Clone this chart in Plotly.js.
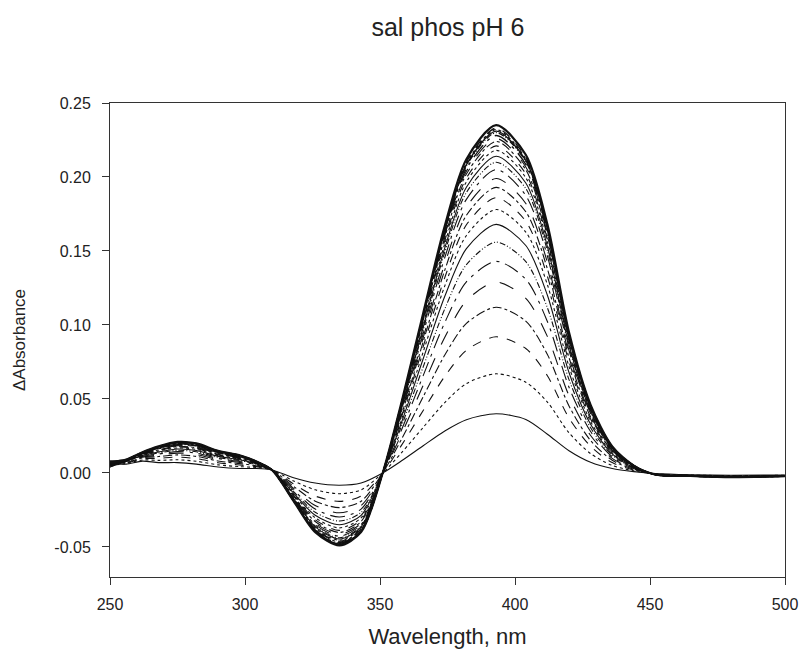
<!DOCTYPE html>
<html>
<head>
<meta charset="utf-8">
<script src="https://cdn.plot.ly/plotly-3.0.1.min.js"></script>
<style>html,body{margin:0;padding:0;background:#fff;}#chart{width:805px;height:659px;}</style>
</head>
<body>
<div id="chart"></div>
<script>
// Wavelength grid (nm) at which values were read
const wavelength = [250,256,262,268,275,282,290,298,304,310,318,326,335,343,351,358,366,374,382,393,404,412,420,428,436,444,452,465,480,500];

// ΔAbsorbance spectra (titration series, lowest to highest)
const s01 = [0.006,0.006,0.008,0.007,0.007,0.006,0.004,0.003,0.003,0.002,-0.0032,-0.0068,-0.0083,-0.0068,0,0.0082,0.0184,0.0284,0.0360,0.040,0.0362,0.0262,0.0150,0.0072,0.0030,0.0009,-0.0004,-0.0012,-0.0015,-0.0014];
const s02 = [0.005,0.0064,0.0088,0.0085,0.0089,0.0079,0.0055,0.0043,0.0037,0.002,-0.0054,-0.0114,-0.0140,-0.0114,0,0.0137,0.0308,0.0476,0.0604,0.067,0.0613,0.0479,0.0271,0.0131,0.0051,0.0014,-0.0006,-0.0014,-0.0018,-0.0016];
const s03 = [0.007,0.0068,0.0096,0.0099,0.0107,0.0097,0.0069,0.0054,0.0043,0.002,-0.0074,-0.0156,-0.0192,-0.0156,0,0.0188,0.0422,0.0653,0.0829,0.092,0.0841,0.0657,0.0371,0.0180,0.0070,0.0020,-0.0007,-0.0015,-0.0020,-0.0017];
const s04 = [0.006,0.0071,0.0102,0.0111,0.0122,0.0112,0.0081,0.0063,0.0049,0.002,-0.0091,-0.0191,-0.0234,-0.0191,0,0.0229,0.0515,0.0797,0.1011,0.112,0.1026,0.0801,0.0453,0.0219,0.0086,0.0024,-0.0008,-0.0016,-0.0021,-0.0018];
const s05 = [0.005,0.0074,0.0107,0.0120,0.0134,0.0124,0.0090,0.0071,0.0053,0.002,-0.0104,-0.0220,-0.0269,-0.0220,0,0.0264,0.0593,0.0917,0.1164,0.129,0.1180,0.0922,0.0522,0.0253,0.0099,0.0027,-0.0009,-0.0017,-0.0022,-0.0019];
const s06 = [0.007,0.0076,0.0112,0.0128,0.0144,0.0134,0.0098,0.0078,0.0056,0.002,-0.0116,-0.0244,-0.0298,-0.0244,0,0.0292,0.0658,0.1017,0.1291,0.143,0.1309,0.1023,0.0579,0.0280,0.0110,0.0030,-0.0009,-0.0018,-0.0023,-0.0018];
const s07 = [0.006,0.0078,0.0116,0.0135,0.0153,0.0143,0.0105,0.0084,0.0060,0.002,-0.0126,-0.0266,-0.0325,-0.0266,0,0.0319,0.0717,0.1109,0.1408,0.156,0.1428,0.1116,0.0631,0.0305,0.0120,0.0033,-0.0010,-0.0017,-0.0024,-0.0020];
const s08 = [0.004,0.0080,0.0119,0.0142,0.0162,0.0152,0.0112,0.0089,0.0063,0.002,-0.0136,-0.0286,-0.0350,-0.0286,0,0.0343,0.0772,0.1194,0.1516,0.168,0.1537,0.1201,0.0679,0.0329,0.0129,0.0036,-0.0010,-0.0019,-0.0025,-0.0019];
const s09 = [0.007,0.0081,0.0122,0.0148,0.0169,0.0159,0.0118,0.0094,0.0065,0.002,-0.0144,-0.0303,-0.0371,-0.0303,0,0.0363,0.0818,0.1264,0.1605,0.178,0.1628,0.1272,0.0719,0.0348,0.0136,0.0038,-0.0011,-0.0018,-0.0026,-0.0021];
const s10 = [0.006,0.0082,0.0125,0.0152,0.0175,0.0165,0.0122,0.0097,0.0067,0.002,-0.0150,-0.0316,-0.0388,-0.0316,0,0.0380,0.0854,0.1321,0.1677,0.186,0.1701,0.1329,0.0751,0.0364,0.0142,0.0040,-0.0011,-0.0020,-0.0025,-0.0020];
const s11 = [0.005,0.0084,0.0127,0.0156,0.0180,0.0170,0.0126,0.0101,0.0069,0.002,-0.0156,-0.0328,-0.0402,-0.0328,0,0.0394,0.0887,0.1371,0.1741,0.193,0.1765,0.1379,0.0780,0.0378,0.0148,0.0041,-0.0012,-0.0019,-0.0027,-0.0022];
const s12 = [0.008,0.0084,0.0129,0.0160,0.0184,0.0174,0.0130,0.0103,0.0071,0.002,-0.0161,-0.0339,-0.0415,-0.0339,0,0.0407,0.0915,0.1414,0.1796,0.199,0.1821,0.1423,0.0805,0.0390,0.0152,0.0042,-0.0011,-0.0020,-0.0026,-0.0021];
const s13 = [0.006,0.0085,0.0131,0.0163,0.0188,0.0178,0.0133,0.0106,0.0072,0.002,-0.0166,-0.0349,-0.0427,-0.0349,0,0.0419,0.0942,0.1456,0.1849,0.205,0.1875,0.1465,0.0828,0.0401,0.0157,0.0044,-0.0012,-0.0021,-0.0027,-0.0020];
const s14 = [0.005,0.0086,0.0132,0.0166,0.0192,0.0182,0.0136,0.0108,0.0074,0.002,-0.0170,-0.0358,-0.0438,-0.0358,0,0.0429,0.0966,0.1493,0.1895,0.210,0.1922,0.1502,0.0849,0.0411,0.0161,0.0045,-0.0012,-0.0020,-0.0028,-0.0022];
const s15 = [0.007,0.0087,0.0134,0.0168,0.0195,0.0185,0.0138,0.0110,0.0075,0.002,-0.0173,-0.0364,-0.0446,-0.0364,0,0.0437,0.0984,0.1521,0.1931,0.214,0.1959,0.1530,0.0865,0.0419,0.0164,0.0046,-0.0011,-0.0021,-0.0026,-0.0021];
const s16 = [0.006,0.0087,0.0135,0.0170,0.0198,0.0188,0.0140,0.0112,0.0076,0.002,-0.0176,-0.0371,-0.0455,-0.0371,0,0.0445,0.1002,0.1550,0.1967,0.218,0.1995,0.1559,0.0882,0.0427,0.0167,0.0046,-0.0012,-0.0022,-0.0027,-0.0022];
const s17 = [0.004,0.0088,0.0136,0.0172,0.0200,0.0190,0.0142,0.0114,0.0076,0.002,-0.0179,-0.0376,-0.0461,-0.0376,0,0.0451,0.1015,0.1570,0.1993,0.221,0.2021,0.1579,0.0893,0.0432,0.0169,0.0047,-0.0012,-0.0021,-0.0028,-0.0023];
const s18 = [0.006,0.0088,0.0137,0.0174,0.0202,0.0192,0.0144,0.0115,0.0077,0.002,-0.0181,-0.0381,-0.0467,-0.0381,0,0.0457,0.1029,0.1592,0.2020,0.224,0.2049,0.1601,0.0905,0.0438,0.0172,0.0048,-0.0011,-0.0022,-0.0027,-0.0021];
const s19 = [0.007,0.0089,0.0137,0.0175,0.0204,0.0194,0.0145,0.0116,0.0078,0.002,-0.0183,-0.0385,-0.0471,-0.0385,0,0.0462,0.1039,0.1607,0.2039,0.226,0.2068,0.1616,0.0914,0.0443,0.0173,0.0048,-0.0012,-0.0021,-0.0028,-0.0022];
const s20 = [0.005,0.0089,0.0138,0.0176,0.0205,0.0195,0.0146,0.0117,0.0078,0.002,-0.0184,-0.0388,-0.0475,-0.0388,0,0.0466,0.1048,0.1620,0.2056,0.228,0.2086,0.1630,0.0922,0.0446,0.0175,0.0049,-0.0012,-0.0022,-0.0028,-0.0023];
const s21 = [0.006,0.0089,0.0139,0.0177,0.0207,0.0197,0.0147,0.0118,0.0079,0.002,-0.0186,-0.0392,-0.0480,-0.0392,0,0.0470,0.1057,0.1635,0.2075,0.230,0.2105,0.1645,0.0930,0.0450,0.0176,0.0049,-0.0012,-0.0022,-0.0027,-0.0022];
const s22 = [0.008,0.0089,0.0139,0.0178,0.0207,0.0197,0.0148,0.0118,0.0079,0.002,-0.0187,-0.0393,-0.0482,-0.0393,0,0.0472,0.1062,0.1642,0.2084,0.231,0.2113,0.1651,0.0934,0.0452,0.0177,0.0049,-0.0011,-0.0021,-0.0028,-0.0022];
const s23 = [0.005,0.0090,0.0139,0.0178,0.0208,0.0198,0.0148,0.0119,0.0079,0.002,-0.0188,-0.0395,-0.0484,-0.0395,0,0.0474,0.1066,0.1648,0.2092,0.232,0.2122,0.1658,0.0938,0.0454,0.0178,0.0049,-0.0012,-0.0022,-0.0028,-0.0023];
const s24 = [0.006,0.0090,0.0139,0.0179,0.0208,0.0198,0.0149,0.0119,0.0080,0.002,-0.0188,-0.0396,-0.0486,-0.0396,0,0.0476,0.1070,0.1655,0.2101,0.233,0.2131,0.1665,0.0941,0.0456,0.0178,0.0050,-0.0012,-0.0022,-0.0028,-0.0022];
const s25 = [0.007,0.009,0.014,0.018,0.021,0.020,0.015,0.012,0.008,0.002,-0.019,-0.040,-0.049,-0.040,0,0.048,0.108,0.167,0.212,0.235,0.215,0.168,0.095,0.046,0.018,0.005,-0.001,-0.002,-0.0028,-0.0022];

const yTickVals = [-0.05,0,0.05,0.10,0.15,0.20,0.25];
const yTickText = ['-0.05','0.00','0.05','0.10','0.15','0.20','0.25'];
const xTickVals = [250,300,350,400,450,500];

const series = [s01,s02,s03,s04,s05,s06,s07,s08,s09,s10,s11,s12,s13,s14,s15,s16,s17,s18,s19,s20,s21,s22,s23,s24,s25];
const dashes = ['solid','dot','dash','dashdot','longdash','longdashdot','6px,2px,1px,2px,1px,2px'];

const traces = series.map((y, i) => {
  const last = i === series.length - 1;
  return {
    type: 'scatter', mode: 'lines', x: wavelength, y: y,
    line: {color: '#111', width: last ? 2.2 : (i > 18 ? 1.4 : 1.1),
           dash: last ? 'solid' : dashes[i % dashes.length], shape: 'spline', smoothing: 0.8},
    hoverinfo: 'skip', showlegend: false
  };
});

const font = 'Liberation Sans, Arial, Helvetica, sans-serif';
const layout = {
  width: 805, height: 659,
  margin: {l: 110, r: 20, t: 103, b: 82},
  paper_bgcolor: '#fff', plot_bgcolor: '#fff',
  font: {family: font, color: '#222'},
  title: {text: 'sal phos pH 6', font: {size: 25, family: font, color: '#222'},
          x: 0.5564, xanchor: 'center', xref: 'container', y: 0.958, yanchor: 'middle', yref: 'container'},
  xaxis: {
    range: [250, 500], tickvals: xTickVals, ticks: 'outside', ticklen: 7, tickwidth: 1, tickcolor: '#333',
    showline: true, linecolor: '#333', linewidth: 1, mirror: true, showgrid: false, zeroline: false,
    ticklabelstandoff: 6,
    tickfont: {size: 16, family: font, color: '#222'},
    title: {text: 'Wavelength, nm', font: {size: 22, family: font, color: '#222'}, standoff: 16}
  },
  yaxis: {
    range: [-0.0703, 0.25], tickvals: yTickVals, ticktext: yTickText, ticks: 'outside', ticklen: 7, tickwidth: 1, tickcolor: '#333',
    showline: true, linecolor: '#333', linewidth: 1, mirror: true, showgrid: false, zeroline: false,
    ticklabelstandoff: 8,
    tickfont: {size: 16, family: font, color: '#222'},
    title: {text: 'ΔAbsorbance', font: {size: 17, family: font, color: '#222'}, standoff: 24}
  }
};

Plotly.newPlot('chart', traces, layout, {displayModeBar: false, staticPlot: true});
</script>
</body>
</html>
